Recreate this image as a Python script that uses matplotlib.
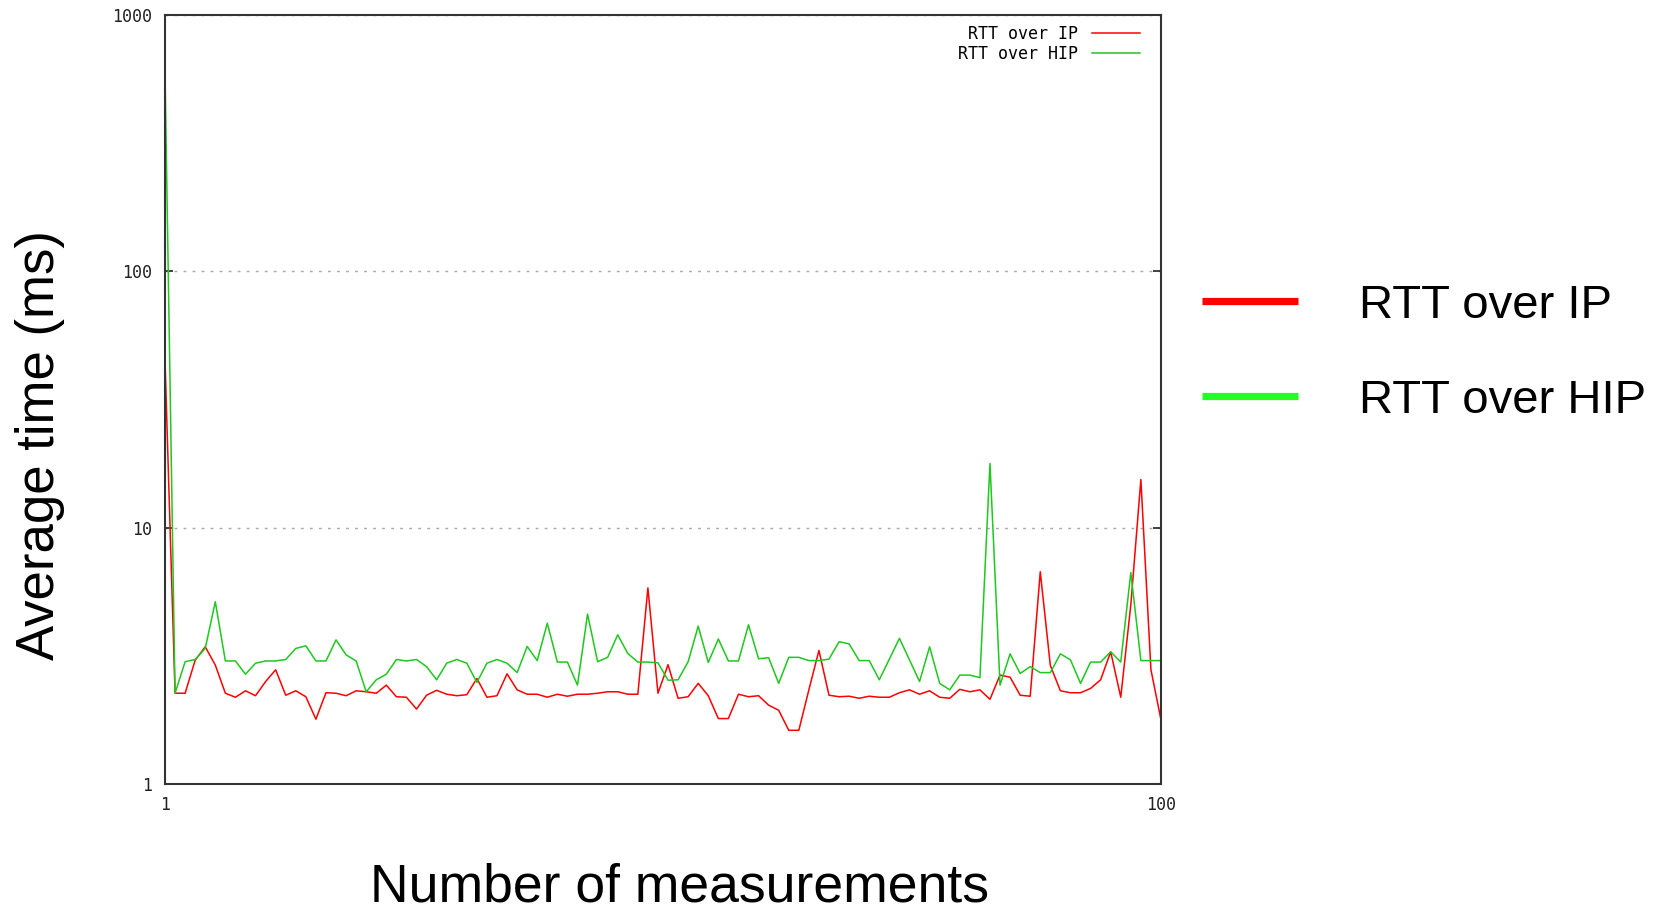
import numpy as np
import matplotlib.pyplot as plt
from matplotlib.lines import Line2D
from matplotlib.ticker import NullLocator

measurements = np.arange(1, 101)

rtt_ip = [45, 2.26, 2.26, 3.04, 3.43, 2.91, 2.26, 2.18, 2.31, 2.21,
          2.51, 2.79, 2.22, 2.31, 2.19, 1.79, 2.27, 2.26, 2.21, 2.31,
          2.29, 2.26, 2.43, 2.19, 2.18, 1.96, 2.22, 2.32, 2.24, 2.21,
          2.23, 2.58, 2.18, 2.21, 2.69, 2.33, 2.24, 2.24, 2.18, 2.24,
          2.20, 2.24, 2.24, 2.26, 2.29, 2.29, 2.24, 2.24, 5.82, 2.26,
          2.92, 2.16, 2.19, 2.47, 2.21, 1.80, 1.80, 2.24, 2.19, 2.21,
          2.03, 1.94, 1.62, 1.62, 2.33, 3.32, 2.22, 2.19, 2.20, 2.16,
          2.20, 2.18, 2.18, 2.27, 2.33, 2.24, 2.31, 2.18, 2.16, 2.34,
          2.29, 2.33, 2.14, 2.66, 2.61, 2.22, 2.20, 6.73, 2.90, 2.31,
          2.27, 2.27, 2.36, 2.55, 3.28, 2.18, 5.00, 15.4, 2.79, 1.78]

rtt_hip = [600, 2.26, 3.00, 3.06, 3.38, 5.14, 3.02, 3.02, 2.68, 2.96,
           3.02, 3.02, 3.06, 3.38, 3.46, 3.02, 3.02, 3.65, 3.19, 3.02,
           2.29, 2.55, 2.68, 3.06, 3.02, 3.06, 2.87, 2.55, 2.96, 3.06,
           2.96, 2.49, 2.96, 3.06, 2.96, 2.72, 3.44, 3.03, 4.24, 2.99,
           2.99, 2.43, 4.60, 3.00, 3.12, 3.82, 3.23, 2.99, 2.99, 2.97,
           2.54, 2.55, 3.00, 4.13, 2.98, 3.68, 3.02, 3.02, 4.18, 3.08,
           3.11, 2.47, 3.12, 3.12, 3.03, 3.03, 3.07, 3.59, 3.52, 3.03,
           3.03, 2.55, 3.07, 3.70, 3.05, 2.51, 3.43, 2.47, 2.33, 2.66,
           2.66, 2.60, 17.8, 2.43, 3.22, 2.70, 2.87, 2.72, 2.72, 3.22,
           3.05, 2.47, 2.99, 2.99, 3.28, 2.99, 6.68, 3.03, 3.03, 3.03]

series_labels = ['RTT over IP', 'RTT over HIP']
line_colors = ['#ff0000', '#1ec81e']
legend_colors = ['#ff0000', '#22ff22']

W, H = 1670, 911
fig = plt.figure(figsize=(W / 100, H / 100), dpi=100)
ax = fig.add_axes([165 / W, 1 - 784 / H, 996 / W, 769 / H])

ax.plot(measurements, rtt_ip, color=line_colors[0], lw=1.1, label=series_labels[0])
ax.plot(measurements, rtt_hip, color=line_colors[1], lw=1.1, label=series_labels[1])

ax.set_yscale('log')
ax.set_xlim(1, 100)
ax.set_ylim(1, 1000)
ax.set_xticks([1, 100])
ax.set_xticklabels(['1', '100'])
ax.set_yticks([1, 10, 100, 1000])
ax.set_yticklabels(['1', '10', '100', '1000'])
ax.yaxis.set_minor_locator(NullLocator())
ax.tick_params(direction='in', length=6, width=1.2, right=True, top=True,
               labelsize=12, pad=9, labelfontfamily='DejaVu Sans Mono',
               colors='#222222')
ax.grid(axis='y', which='major', color='#a8a8a8', lw=1.0, linestyle=(0, (2, 4.5)))
for sp in ax.spines.values():
    sp.set_color('#333333')
    sp.set_linewidth(1.5)

# small legend inside the plot (gnuplot style: text then line sample)
ax.legend(loc='upper right', bbox_to_anchor=((1140 - 165) / 996, (784 - 25) / 769),
          markerfirst=False, frameon=False, borderpad=0, borderaxespad=0,
          handlelength=2.9, handletextpad=0.8, labelspacing=0.12,
          prop={'family': 'DejaVu Sans Mono', 'size': 12})

# big legend on the right
handles = [Line2D([], [], color=c, lw=5.2, solid_capstyle='butt') for c in legend_colors]
fig.legend(handles, series_labels, loc='upper left',
           bbox_to_anchor=(1202 / W, 1 - 284 / H), frameon=False,
           borderpad=0, borderaxespad=0, handlelength=2.03, handletextpad=1.3,
           labelspacing=1.08, prop={'family': 'Liberation Sans', 'size': 34})

fig.text(54 / W, 1 - 445 / H, 'Average time (ms)', rotation=90, rotation_mode='anchor',
         ha='center', va='baseline', fontsize=38, family='Liberation Sans')
fig.text(679 / W, 1 - 901 / H, 'Number of measurements', ha='center', va='baseline',
         fontsize=38.5, family='Liberation Sans')

fig.savefig('out.png', dpi=100, facecolor='white')
